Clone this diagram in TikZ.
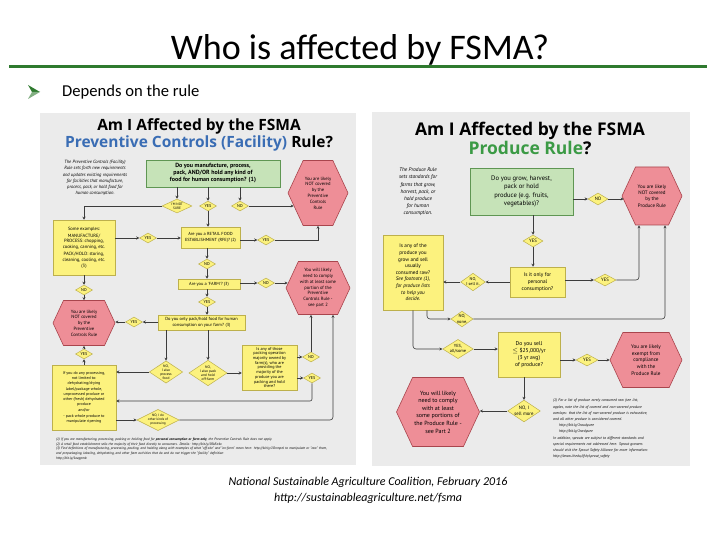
\documentclass[tikz,border=0pt]{standalone}
\usepackage{fontspec}
\setmainfont{Carlito}
\newfontfamily\chartfont{PT Sans}
\newfontfamily\headfont{Open Sans}
\usepackage{tikz}
\usetikzlibrary{shapes.geometric, shapes.symbols, arrows.meta, positioning, calc}
\definecolor{slideGreen}{HTML}{2F7A2F}
\definecolor{chartBack}{HTML}{EBEBEB}
\definecolor{chartLine}{HTML}{3C3C3C}
\definecolor{chartBlue}{HTML}{3A6DB4}
\definecolor{chartGreen}{HTML}{3B9A45}
\definecolor{qFill}{HTML}{C6E3B8}
\definecolor{qLine}{HTML}{5F9653}
\definecolor{yFill}{HTML}{FCF27E}
\definecolor{yLine}{HTML}{BDB04C}
\definecolor{rFill}{HTML}{EE8E97}
\definecolor{rLine}{HTML}{A9454D}
\newcommand{\fsz}[2]{\fontsize{#1}{#2}\selectfont}

\begin{document}
\begin{tikzpicture}[x=1pt, y=-1pt,
  ctitle/.style={font=\headfont\bfseries\fsz{15.5}{16.5}, align=center, inner sep=0pt},
  cdesc/.style={font=\chartfont\itshape\fsz{4.6}{6.2}, align=center, inner sep=0pt},
  qbox/.style={draw=qLine, fill=qFill, line width=0.6pt, align=center, inner sep=1pt},
  ybox/.style={draw=yLine, fill=yFill, line width=0.5pt, align=center, inner sep=1pt,
               font=\chartfont\fsz{4.4}{5.2}},
  dec/.style={diamond, aspect=2, draw=yLine, fill=yFill, line width=0.5pt, align=center,
              inner sep=0pt, minimum width=17, minimum height=10, font=\chartfont\fsz{4.2}{4.6}},
  hexa/.style={signal, signal to=west and east, signal from=nowhere, signal pointer angle=130,
               draw=rLine, fill=rFill, line width=0.6pt, align=center, inner sep=0pt,
               font=\chartfont\fsz{4.6}{5.8}},
  flow/.style={draw=chartLine, line width=0.6pt, -{Stealth[length=3pt, width=3pt]}},
  note/.style={font=\chartfont\itshape\fsz{3.5}{4.6}, align=left, inner sep=0pt, anchor=north west},
]
\useasboundingbox[fill=white] (0,0) rectangle (720,540);

% ---------------- slide ----------------
\node[font=\rmfamily\fsz{36}{40}, anchor=base, inner sep=0pt] (title) at (360,60) {Who is affected by FSMA?};
\draw[slideGreen, line width=3pt] (9,67) -- (707,67);
\fill[slideGreen] (28,85) -- (40,92) -- (32,92) -- cycle;
\fill[slideGreen!60] (28,99) -- (40,92) -- (32,92) -- cycle;
\node[font=\rmfamily\fsz{16.6}{18}, anchor=base west, inner sep=0pt] (bullet) at (62,97) {Depends on the rule};
\node[font=\rmfamily\itshape\fsz{12}{16}, align=center, anchor=north, inner sep=0pt] (source) at (368,477)
  {National Sustainable Agriculture Coalition, February 2016\\http://sustainableagriculture.net/fsma};

\fill[chartBack] (40,113) rectangle (356,465);
\fill[chartBack] (372,112) rectangle (690,466);

% ---------------- left chart: facility rule ----------------
\node[ctitle] (ltitle) at (199,135) {Am I Affected by the FSMA\\{\color{chartBlue}Preventive Controls (Facility)} Rule?};
\node[cdesc] (ldesc) at (95,178) {The Preventive Controls (Facility)\\Rule sets forth new requirements\\and updates existing requirements\\for facilities that manufacture,\\process, pack, or hold food for\\human consumption.};
\node[qbox, font=\chartfont\bfseries\fsz{6}{7}, minimum width=134, minimum height=27] (lq1) at (213,173.5)
  {Do you manufacture, process,\\pack, AND/OR hold any kind of\\food for human consumption? (1)};
\node[dec, minimum width=30, minimum height=14, font=\chartfont\fsz{3.4}{3.8}] (lnsure) at (177,206) {I'M NOT\\SURE};
\node[dec] (lyes1) at (208,206) {YES};
\node[dec] (lno1) at (240,206) {NO};
\node[hexa, minimum width=60, minimum height=65] (lnot1) at (318,193) {You are likely\\NOT covered\\by the\\Preventive\\Controls\\Rule};
\node[ybox, minimum width=62, minimum height=55, font=\chartfont\fsz{4.6}{5.8}] (lex) at (84,247.5)
  {Some examples:\\[1pt]MANUFACTURE/\\PROCESS: chopping,\\cooking, canning, etc.\\[1pt]PACK/HOLD: storing,\\cleaning, cooling, etc.\\(3)};
\node[dec] (lyes2) at (148,238) {YES};
\node[ybox, minimum width=59, minimum height=21] (lrfe) at (210.5,237.5) {Are you a RETAIL FOOD\\ESTABLISHMENT (RFE)? (2)};
\node[dec] (lyes3) at (266,240) {YES};
\node[dec] (lno2) at (207,264) {NO};
\node[ybox, minimum width=62, minimum height=10] (lfarm) at (209,284) {Are you a 'FARM'? (3)};
\node[dec] (lno3) at (266,283) {NO};
\node[hexa, minimum width=64, minimum height=53] (lcomply) at (318,288) {You will likely\\need to comply\\with at least some\\portion of the\\Preventive\\Controls Rule -\\see part 2};
\node[dec] (lyes4) at (207,302) {YES};
\node[ybox, minimum width=87, minimum height=15] (lpack) at (201.5,322.5) {Do you only pack/hold food for human\\consumption on your farm? (3)};
\node[dec] (lyes5) at (134,322) {YES};
\node[hexa, minimum width=62, minimum height=45] (lnot2) at (84,323) {You are likely\\NOT covered\\by the\\Preventive\\Controls Rule};
\node[dec] (lno4) at (84,290) {NO};
\node[dec] (lyes6) at (84,354) {YES};
\node[dec, aspect=1.5, font=\chartfont\fsz{3.6}{4}] (lproc) at (166,372) {NO,\\I also\\process\\food};
\node[dec, aspect=1.5, font=\chartfont\fsz{3.6}{4}] (loff) at (208,373) {NO,\\I also pack\\and hold\\off-farm};
\node[ybox, minimum width=64, minimum height=65, font=\chartfont\fsz{4}{5}] (lbig) at (84,397.5)
  {If you do any processing,\\not limited to:\\dehydrating/drying\\[1pt]label/package whole,\\unprocessed produce or\\other (fresh) dehydrated\\produce\\[1pt]and/or\\[1pt]- pack whole produce to\\manipulate ripening};
\node[ybox, minimum width=55, minimum height=45, font=\chartfont\fsz{4.2}{4.7}] (lpk) at (269.5,367.5)
  {Is any of those\\packing operation\\majority owned by\\farm(s), who are\\providing the\\majority of the\\produce you are\\packing and hold\\there?};
\node[dec] (lno5) at (311,357) {NO};
\node[dec] (lyes7) at (312,378) {YES};
\node[dec, font=\chartfont\fsz{3.4}{4}] (lother) at (158,420) {NO, I do\\other kinds of\\processing};
\coordinate (lret) at (312,401);
\node[note, text width=272] (lfoot) at (56,438) {(1) If you are manufacturing, processing, packing or holding food for \textbf{personal consumption or farm only}, the Preventive Controls Rule does not apply.\\(2) A retail food establishment sells the majority of their food directly to consumers. Details: http://bit.ly/1RkEo4x\\(3) Find definitions of manufacturing, processing, packing, and holding along with examples of what "off-site" and "on-farm" mean here: http://bit.ly/1OnmpeJ to manipulate or "raw" them, and prepackaging, labeling, dehydrating, and other farm activities that do and do not trigger the "facility" definition\\http://bit.ly/1ozgpmb};

% ---------------- left chart: connectors ----------------
\draw[flow] (lnsure.north |- lq1.south) -- (lnsure.north);
\draw[flow] (lyes1.north |- lq1.south) -- (lyes1.north);
\draw[flow] (lno1.north |- lq1.south) -- (lno1.north);
\draw[flow] (lno1.east) -- ($(lno1 -| lnot1.west)+(6,0)$);
\draw[flow] (lnsure.west) -| (lex.north);
\draw[flow] (lyes1.south) -- (lyes1.south |- lrfe.north);
\draw[flow] (lex.east |- lyes2) -- (lyes2);
\draw[flow] (lyes2) -- (lrfe.west |- lyes2);
\draw[flow] (lrfe.east |- lyes3) -- (lyes3);
\draw[flow] (lyes3.east) -| (lnot1.south);
\draw[flow] (lno2.north |- lrfe.south) -- (lno2);
\draw[flow] (lno2) -- (lno2 |- lfarm.north);
\draw[flow] (lfarm.east |- lno3) -- (lno3);
\draw[flow] (lno3) -- ($(lno3 -| lcomply.west)+(2,0)$);
\draw[flow] (lyes4.north |- lfarm.south) -- (lyes4);
\draw[flow] (lyes4) -- (lyes4 |- lpack.north);
\draw[flow] (lpack.west |- lyes5) -- (lyes5);
\draw[flow] (lyes5) -- (lyes5 -| lnot2.east);
\draw[flow] (lex.south) -- (lno4);
\draw[flow] (lno4) -- (lno4 |- lnot2.north);
\draw[flow] (lbig.north) -- (lyes6);
\draw[flow] (lyes6) -- (lyes6 |- lnot2.south);
\draw[flow] (lproc.north |- lpack.south) -- (lproc.north);
\draw[flow] (loff.north |- lpack.south) -- (loff.north);
\draw[flow] (lproc.west) -- (lproc.west -| lbig.east);
\draw[flow] (loff.east) -- (loff.east -| lpk.west);
\draw[flow] (lpk.east |- lno5) -- (lno5);
\draw[flow] (lpk.east |- lyes7) -- (lyes7);
\draw[flow] (lno5.north) -- (lno5.north |- lcomply.south);
\draw[flow, rounded corners=2pt] (lyes7.south) -- (lret) -- (lret -| lbig.east);
\draw[flow] (lbig.east |- lother) -- (lother);
\draw[flow, rounded corners=3pt] (lother.east) -| ($(lcomply.south)+(15,0)$);

% ---------------- right chart: produce rule ----------------
\node[ctitle, font=\headfont\bfseries\fsz{17.5}{17}] (rtitle) at (530,138.5) {Am I Affected by the FSMA\\{\color{chartGreen}Produce Rule}?};
\node[cdesc, font=\chartfont\itshape\fsz{5.3}{7.2}] (rdesc) at (418,192) {The Produce Rule\\sets standards for\\farms that grow,\\harvest, pack, or\\hold produce\\for human\\consumption.};
\node[qbox, font=\chartfont\fsz{6.6}{8.3}, minimum width=103, minimum height=47] (rq1) at (521.5,191.5)
  {Do you grow, harvest,\\pack or hold\\produce (e.g. fruits,\\vegetables)?};
\node[dec, minimum width=20, minimum height=12, font=\chartfont\fsz{4.8}{5}] (rno1) at (598,199) {NO};
\node[hexa, minimum width=60, minimum height=58, font=\chartfont\fsz{5}{6.3}] (rnot) at (652,196) {You are likely\\NOT covered\\by the\\Produce Rule};
\node[dec, minimum width=20, minimum height=12, font=\chartfont\fsz{4.8}{5}] (ryes1) at (533,241) {YES};
\node[ybox, font=\chartfont\fsz{5.3}{7}, minimum width=55, minimum height=30] (rpers) at (537.5,282) {Is it only for\\personal\\consumption?};
\node[dec, minimum width=22, minimum height=12, font=\chartfont\fsz{4.8}{5}] (ryes2) at (605,280) {YES};
\node[dec, aspect=1.4, font=\chartfont\fsz{4.2}{5}] (rnosell) at (473,282) {NO,\\I sell it.};
\node[ybox, font=\chartfont\fsz{5.2}{6.6}, minimum width=60, minimum height=75] (rraw) at (413,272.5)
  {Is any of the\\produce you\\grow and sell\\usually\\consumed raw?\\\textit{See footnote (1),}\\\textit{for produce lists}\\\textit{to help you}\\\textit{decide.}};
\node[dec, aspect=1.4, font=\chartfont\fsz{4.4}{5.2}] (rnone) at (462,319) {NO,\\none.};
\node[dec, aspect=1.6, font=\chartfont\fsz{4.4}{5.2}] (ryesall) at (458,349) {YES,\\all/some};
\node[ybox, font=\chartfont\fsz{5.6}{7.2}, minimum width=62, minimum height=45] (rsell) at (529,354.5)
  {Do you sell\\$\leq$ \$25,000/yr\\(3 yr avg)\\of produce?};
\node[dec, minimum width=22, minimum height=12, font=\chartfont\fsz{4.8}{5}] (ryes3) at (587,360) {YES};
\node[hexa, minimum width=72, minimum height=55, font=\chartfont\fsz{5.2}{6.6}] (rexempt) at (646,360) {You are likely\\exempt from\\compliance\\with the\\Produce Rule};
\node[dec, aspect=1.5, font=\chartfont\fsz{4.8}{5.6}] (rnomore) at (524,411) {NO, I\\sell more};
\node[hexa, minimum width=83, minimum height=69, font=\chartfont\fsz{6}{7.6}] (rcomply) at (438,412)
  {You will likely\\need to comply\\with at least\\some portions of\\the Produce Rule -\\see Part 2};
\node[note, font=\chartfont\itshape\fsz{3.8}{6.2}, text width=128] (rfoot) at (553,399)
  {(1) For a list of produce rarely consumed raw (see list,\\apples, note the list of covered and non-covered produce\\overlaps: that the list of non-covered produce is exhaustive,\\and all other produce is considered covered.\\\hspace*{6pt}http://bit.ly/1raudyuee\\\hspace*{6pt}http://bit.ly/1rwdyuee\\In addition, sprouts are subject to different standards and\\special requirements not addressed here. Sprout growers\\should visit the Sprout Safety Alliance for more information:\\http://www.iit.edu/ifsh/sprout\_safety};

% ---------------- right chart: connectors ----------------
\draw[flow] (rq1.east |- rno1) -- (rno1);
\draw[flow] (rno1) -- ($(rno1 -| rnot.west)+(2,0)$);
\draw[flow] (ryes1.north |- rq1.south) -- (ryes1);
\draw[flow] (ryes1) -- (ryes1 |- rpers.north);
\draw[flow] (rpers.east |- ryes2) -- (ryes2);
\draw[flow, rounded corners=3pt] (ryes2.east) -| ($(rnot.south)+(-13,0)$);
\draw[flow] (rpers.west |- rnosell) -- (rnosell);
\draw[flow] (rnosell) -- (rnosell -| rraw.east);
\draw[flow, rounded corners=3pt] ($(rraw.south)+(14,0)$) |- (rnone.west);
\draw[flow, rounded corners=3pt] (rnone.east) -| ($(rnot.south)+(13,0)$);
\draw[flow, rounded corners=3pt] (rraw.south) |- (ryesall.west);
\draw[flow] (ryesall) -- (ryesall -| rsell.west);
\draw[flow] (rsell.east |- ryes3) -- (ryes3);
\draw[flow] (ryes3) -- (ryes3 -| rexempt.west);
\draw[flow] (rnomore.north |- rsell.south) -- (rnomore);
\draw[flow] (rnomore) -- (rnomore -| rcomply.east);
\end{tikzpicture}
\end{document}
